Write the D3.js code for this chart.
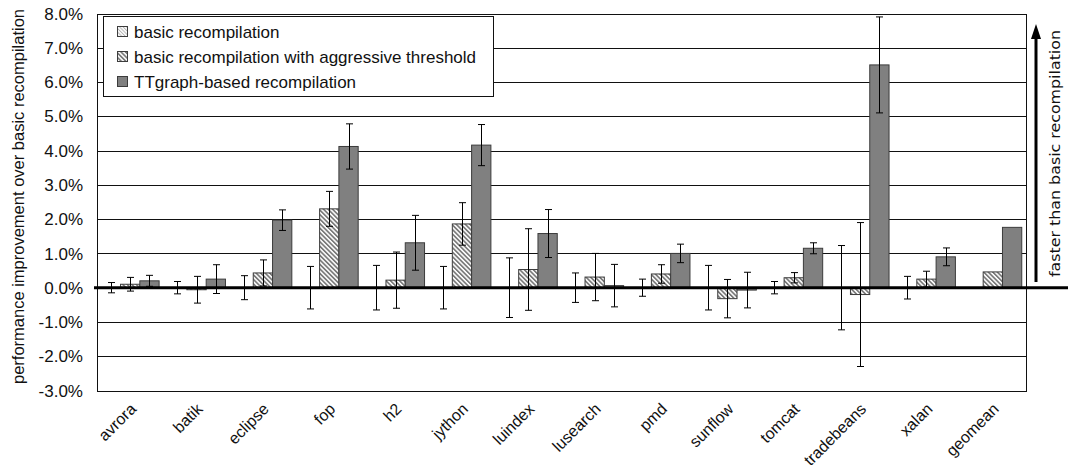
<!DOCTYPE html>
<html>
<head>
<meta charset="utf-8">
<script src="https://cdn.jsdelivr.net/npm/d3@7"></script>
<style>
  body { margin: 0; background: #fff; }
  svg { display: block; font-family: "Liberation Sans", Arial, sans-serif; }
</style>
</head>
<body>
<svg width="1068" height="473"></svg>
<script>
// benchmarks on the x axis
const categories = ["avrora", "batik", "eclipse", "fop", "h2", "jython", "luindex",
  "lusearch", "pmd", "sunflow", "tomcat", "tradebeans", "xalan", "geomean"];

const seriesNames = ["basic recompilation",
  "basic recompilation with aggressive threshold",
  "TTgraph-based recompilation"];

// values in %, error = half length of the error bar
const basicVals = [0, 0, 0, 0, 0, 0, 0, 0, 0, 0, 0, 0, 0, 0];
const basicErr = [0.15, 0.18, 0.35, 0.62, 0.65, 0.62, 0.87, 0.43, 0.25, 0.65, 0.18, 1.23, 0.33, 0];
const aggrVals = [0.1, -0.06, 0.43, 2.3, 0.22, 1.86, 0.53, 0.31, 0.4, -0.32, 0.29, -0.2, 0.25, 0.46];
const aggrErr = [0.2, 0.39, 0.38, 0.51, 0.82, 0.62, 1.19, 0.69, 0.27, 0.56, 0.15, 2.1, 0.23, 0];
const ttgVals = [0.2, 0.25, 1.97, 4.12, 1.31, 4.16, 1.58, 0.06, 1.0, -0.07, 1.15, 6.5, 0.9, 1.76];
const ttgErr = [0.16, 0.42, 0.3, 0.66, 0.8, 0.6, 0.7, 0.62, 0.27, 0.52, 0.16, 1.4, 0.26, 0];

const yTicks = [-3, -2, -1, 0, 1, 2, 3, 4, 5, 6, 7, 8];

const svg = d3.select("svg");
const plotLeft = 97, plotRight = 1026, plotTop = 13.5, plotBottom = 390.5;

const x = d3.scaleBand().domain(categories).range([plotLeft, plotRight]);
const xs = d3.scaleBand().domain([0, 1, 2]).range([0, x.bandwidth()]).paddingOuter(0.22);
const y = d3.scaleLinear().domain([-3, 8]).range([plotBottom, plotTop]);
const py = v => Math.round(y(v)) + 0.5;

// patterns
const defs = svg.append("defs");
defs.append("pattern")
    .attr("id", "hatchLight")
    .attr("patternUnits", "userSpaceOnUse")
    .attr("width", 2.5).attr("height", 2.5)
    .attr("patternTransform", "rotate(-45)")
    .call(p => {
        p.append("rect").attr("width", 2.5).attr("height", 2.5).attr("fill", "#fff");
        p.append("rect").attr("width", 1).attr("height", 2.5).attr("fill", "#b8b8b8");
    });
defs.append("pattern")
    .attr("id", "hatch")
    .attr("patternUnits", "userSpaceOnUse")
    .attr("width", 3.2).attr("height", 3.2)
    .attr("patternTransform", "rotate(-45)")
    .call(p => {
        p.append("rect").attr("width", 3.2).attr("height", 3.2).attr("fill", "#fff");
        p.append("rect").attr("width", 1.7).attr("height", 3.2).attr("fill", "#7a7a7a");
    });

const fills = ["url(#hatchLight)", "url(#hatch)", "#808080"];

// grid
svg.append("g")
    .selectAll("line")
    .data(yTicks.filter(d => d !== 0))
    .join("line")
    .attr("x1", plotLeft).attr("x2", plotRight)
    .attr("y1", d => py(d)).attr("y2", d => py(d))
    .attr("stroke", "#111").attr("stroke-width", 1);

svg.append("rect")
    .attr("x", plotLeft + 0.5).attr("y", py(8))
    .attr("width", plotRight - plotLeft).attr("height", py(-3) - py(8))
    .attr("fill", "none").attr("stroke", "#111");

// y tick labels (plain hyphen like the original)
svg.append("g")
    .selectAll("text")
    .data(yTicks)
    .join("text")
    .attr("x", 83).attr("y", d => y(d))
    .attr("dy", "0.36em")
    .attr("text-anchor", "end")
    .attr("font-size", 17)
    .attr("fill", "#111")
    .text(d => d.toFixed(1) + "%");

// y title
svg.append("text")
    .attr("transform", `translate(18,${(10 + 383) / 2}) rotate(-90)`)
    .attr("text-anchor", "middle")
    .attr("dy", "0.35em")
    .attr("font-size", 16.5)
    .attr("fill", "#111")
    .text("performance improvement over basic recompilation");

// bars
const rows = categories.map((c, i) => [
    {c, s: 0, v: basicVals[i], e: basicErr[i]},
    {c, s: 1, v: aggrVals[i], e: aggrErr[i]},
    {c, s: 2, v: ttgVals[i], e: ttgErr[i]}
]);
const allBars = rows.flat();

svg.append("g")
    .selectAll("rect")
    .data(allBars.filter(d => d.v !== 0))
    .join("rect")
    .attr("x", d => x(d.c) + xs(d.s))
    .attr("width", xs.bandwidth())
    .attr("y", d => y(Math.max(0, d.v)))
    .attr("height", d => Math.abs(y(d.v) - y(0)))
    .attr("fill", d => fills[d.s])
    .attr("stroke", "#3c3c3c").attr("stroke-width", 1);

// zero line
svg.append("line")
    .attr("x1", 94).attr("x2", 1068)
    .attr("y1", y(0)).attr("y2", y(0))
    .attr("stroke", "#000").attr("stroke-width", 3);

// error bars
const eg = svg.append("g").attr("stroke", "#000").attr("stroke-width", 1);
allBars.filter(d => d.e > 0).forEach(d => {
    const cx = Math.round(x(d.c) + xs(d.s) + xs.bandwidth() / 2) + 0.5;
    const y1 = y(d.v + d.e), y2 = y(d.v - d.e);
    eg.append("line").attr("x1", cx).attr("x2", cx).attr("y1", y1).attr("y2", y2);
    eg.append("line").attr("x1", cx - 3.5).attr("x2", cx + 3.5).attr("y1", y1).attr("y2", y1);
    eg.append("line").attr("x1", cx - 3.5).attr("x2", cx + 3.5).attr("y1", y2).attr("y2", y2);
});

// x labels
svg.append("g")
    .selectAll("text")
    .data(categories)
    .join("text")
    .attr("transform", d => `translate(${x(d) + x.bandwidth() / 2 + 7},410) rotate(-45)`)
    .attr("text-anchor", "end")
    .attr("font-size", 16)
    .attr("fill", "#111")
    .text(d => d);

// legend
const lg = svg.append("g");
lg.append("rect")
    .attr("x", 103.5).attr("y", 16.5).attr("width", 390).attr("height", 80)
    .attr("fill", "#fff").attr("stroke", "#111");
seriesNames.forEach((name, i) => {
    const cy = 31.7 + i * 25;
    lg.append("rect")
        .attr("x", 117.5).attr("y", Math.round(cy - 5.5) + 0.5)
        .attr("width", 10).attr("height", 10)
        .attr("fill", fills[i]).attr("stroke", "#3c3c3c");
    lg.append("text")
        .attr("x", 134).attr("y", cy).attr("dy", "0.36em")
        .attr("font-size", 17).attr("fill", "#111")
        .text(name);
});

// right annotation
svg.append("line")
    .attr("x1", 1036).attr("x2", 1036).attr("y1", 282).attr("y2", 36)
    .attr("stroke", "#000").attr("stroke-width", 3);
svg.append("path")
    .attr("d", "M1036,24 L1041,39 L1031,39 Z")
    .attr("fill", "#000");
svg.append("text")
    .attr("transform", `translate(1055,153.5) rotate(-90)`)
    .attr("text-anchor", "middle")
    .attr("dy", "0.35em")
    .attr("font-family", "'DejaVu Sans', sans-serif")
    .attr("font-size", 14)
    .attr("textLength", 247)
    .attr("lengthAdjust", "spacingAndGlyphs")
    .attr("fill", "#111")
    .text("faster than basic recompilation");
</script>
</body>
</html>
